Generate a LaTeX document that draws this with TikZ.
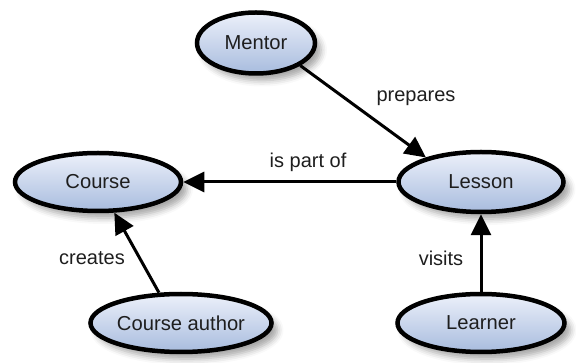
\documentclass[tikz,border=0pt]{standalone}
\usepackage{fontspec}
\setmainfont{Liberation Sans}
\usetikzlibrary{shapes.geometric,arrows.meta,shadows.blur}
\definecolor{conceptTop}{RGB}{236,240,250}
\definecolor{conceptBottom}{RGB}{168,188,222}
\definecolor{labelInk}{RGB}{30,30,30}
\tikzset{
  concept/.style={ellipse, draw=black, line width=4.5pt,
    top color=conceptTop, bottom color=conceptBottom,
    text=labelInk, font=\fontsize{20.2}{24}\selectfont,
    inner sep=0pt,
    blur shadow={shadow xshift=6pt, shadow yshift=-7pt,
      shadow blur radius=6pt, shadow opacity=35}},
  relation/.style={line width=3pt, draw=black,
    -{Triangle[length=21pt,width=20pt]}},
  rellabel/.style={text=labelInk, font=\fontsize{20}{24}\selectfont}
}
\begin{document}
\begin{tikzpicture}[x=1pt,y=-1pt]
\useasboundingbox (0,0) rectangle (576,363);

% concepts
\node[concept, minimum width=118pt, minimum height=61pt] (mentor) at (256,43) {Mentor};
\node[concept, minimum width=166pt, minimum height=58pt] (course) at (98,182) {Course};
\node[concept, minimum width=165pt, minimum height=60pt] (lesson) at (481,182) {Lesson};
\node[concept, minimum width=172pt, minimum height=58pt] (cauthor) at (181,323) {Course author};
\node[concept, minimum width=167pt, minimum height=58pt] (learner) at (481,323) {Learner};

% relations
\draw[relation] (mentor.-27) -- (lesson.156);
\draw[relation] (lesson.west) -- (course.east);
\draw[relation] (cauthor.126) -- (course.-62);
\draw[relation] (learner.north) -- (lesson.south);

% relation labels
\node[rellabel] (lprepares) at (416,98) {prepares};
\node[rellabel] (lpartof) at (308,162) {is part of};
\node[rellabel] (lcreates) at (92,258) {creates};
\node[rellabel] (lvisits) at (441,258) {visits};
\end{tikzpicture}
\end{document}
